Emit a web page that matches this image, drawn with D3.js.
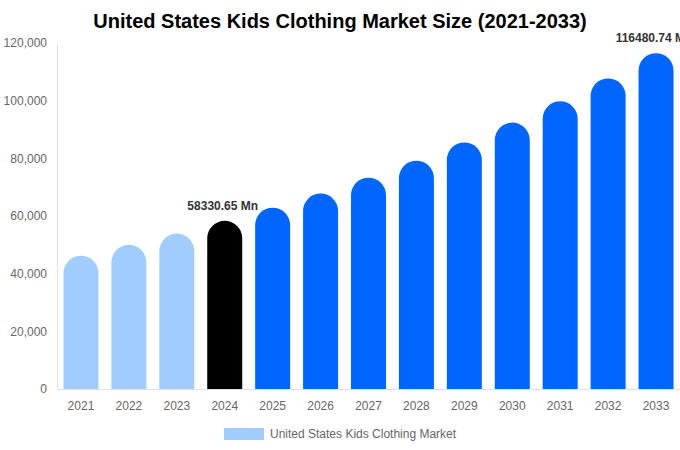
<!DOCTYPE html>
<html>
<head>
<meta charset="utf-8">
<script src="https://cdn.jsdelivr.net/npm/d3@7"></script>
<style>
  body { margin: 0; background: #fff; }
  svg { font-family: "Liberation Sans", Arial, sans-serif; display: block; }
</style>
</head>
<body>
<div id="chart"></div>
<script>
// data
const years = ["2021", "2022", "2023", "2024", "2025", "2026", "2027", "2028", "2029", "2030", "2031", "2032", "2033"];
const marketSize = [46200, 50000, 53900, 58330.65, 62900, 67800, 73300, 79200, 85500, 92400, 99800, 107700, 116480.74];
const yTicks = [0, 20000, 40000, 60000, 80000, 100000, 120000];
const labelled = ["2024", "2033"];
const seriesName = "United States Kids Clothing Market";

let svgWidth = 680, svgHeight = 450;
let margin = { top: 43, right: 0, bottom: 61, left: 57 };
let chartWidth = svgWidth - margin.left - margin.right;
let chartHeight = svgHeight - margin.top - margin.bottom;

let svg = d3.select("#chart").append("svg")
    .attr("width", svgWidth)
    .attr("height", svgHeight);

// title
svg.append("text")
    .attr("x", svgWidth / 2)
    .attr("y", 28)
    .attr("text-anchor", "middle")
    .attr("font-size", 20)
    .attr("font-weight", "bold")
    .attr("fill", "#000")
    .text("United States Kids Clothing Market Size (2021-2033)");

let chartGroup = svg.append("g")
    .attr("transform", `translate(${margin.left}, ${margin.top})`);

let xScale = d3.scaleBand()
    .domain(years)
    .range([0, chartWidth])
    .paddingInner(0.27)
    .paddingOuter(0.135);

let yScale = d3.scaleLinear()
    .domain([0, 120000])
    .range([chartHeight, 0]);

// axes
let yAxis = d3.axisLeft(yScale).tickValues(yTicks).tickSize(0).tickPadding(10)
    .tickFormat(d3.format(","));
let xAxis = d3.axisBottom(xScale).tickSize(0).tickPadding(12);

let gy = chartGroup.append("g").call(yAxis);
gy.select(".domain").attr("stroke", "#e0e0e0");
gy.selectAll("text").attr("fill", "#666").attr("font-size", 12)
    .attr("font-family", "Liberation Sans, Arial, sans-serif");

// bars with rounded tops
let bw = xScale.bandwidth();
let r = bw / 2;
function barPath(d, i) {
    let x0 = xScale(years[i]);
    let y0 = yScale(d);
    let yb = yScale(0);
    return `M${x0},${yb} L${x0},${y0 + r} A${r},${r} 0 0 1 ${x0 + bw},${y0 + r} L${x0 + bw},${yb} Z`;
}
function barColor(i) {
    if (years[i] === "2024") return "#000000";
    if (+years[i] < 2024) return "#a0cdfd";
    return "#0066ff";
}

chartGroup.selectAll("path.bar")
    .data(marketSize)
    .enter()
    .append("path")
    .attr("class", "bar")
    .attr("d", (d, i) => barPath(d, i))
    .attr("fill", (d, i) => barColor(i));

let gx = chartGroup.append("g")
    .attr("transform", `translate(0, ${chartHeight})`)
    .call(xAxis);
gx.select(".domain").attr("stroke", "#e0e0e0");
gx.selectAll("text").attr("fill", "#666").attr("font-size", 12)
    .attr("font-family", "Liberation Sans, Arial, sans-serif");

// value labels
chartGroup.selectAll("text.val")
    .data(marketSize.map((v, i) => ({ v: v, y: years[i] })).filter(d => labelled.includes(d.y)))
    .enter()
    .append("text")
    .attr("class", "val")
    .attr("x", d => xScale(d.y) + bw / 2 - 2)
    .attr("y", d => yScale(d.v) - 11)
    .attr("text-anchor", "middle")
    .attr("font-size", 12)
    .attr("font-weight", "bold")
    .attr("fill", "#333")
    .text(d => d.v.toFixed(2) + " Mn");

// legend
let legend = svg.append("g").attr("transform", "translate(224, 428)");
legend.append("rect")
    .attr("width", 40)
    .attr("height", 12)
    .attr("fill", "#a0cdfd");
legend.append("text")
    .attr("x", 46)
    .attr("y", 10)
    .attr("font-size", 12)
    .attr("fill", "#666")
    .text(seriesName);
</script>
</body>
</html>
